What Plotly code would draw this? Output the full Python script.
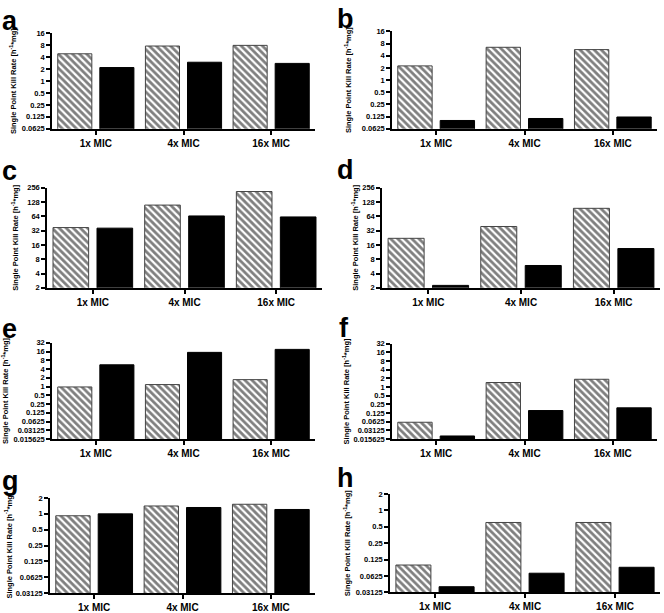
import plotly.graph_objects as go
import math

W, H = 664, 613

categories = ["1x MIC", "4x MIC", "16x MIC"]

a_hatched = [4.9, 7.7, 8.0]
a_black = [2.2, 3.0, 2.8]
b_hatched = [2.25, 6.5, 5.7]
b_black = [0.10, 0.112, 0.122]
c_hatched = [37, 110, 212]
c_black = [36, 65, 62]
d_hatched = [22, 39, 94]
d_black = [2.25, 5.9, 13.4]
e_hatched = [0.97, 1.17, 1.73]
e_black = [5.6, 15, 19]
f_hatched = [0.06, 1.44, 1.87]
f_black = [0.020, 0.153, 0.19]
g_hatched = [0.92, 1.41, 1.52]
g_black = [1.0, 1.32, 1.21]
h_hatched = [0.099, 0.6, 0.6]
h_black = [0.0395, 0.07, 0.09]

ticks_ab = [0.0625, 0.125, 0.25, 0.5, 1, 2, 4, 8, 16]
labels_ab = ["0.0625", "0.125", "0.25", "0.5", "1", "2", "4", "8", "16"]
ticks_cd = [2, 4, 8, 16, 32, 64, 128, 256]
labels_cd = ["2", "4", "8", "16", "32", "64", "128", "256"]
ticks_ef = [0.015625, 0.03125, 0.0625, 0.125, 0.25, 0.5, 1, 2, 4, 8, 16, 32]
labels_ef = ["0.015625", "0.03125", "0.0625", "0.125", "0.25", "0.5", "1", "2", "4", "8", "16", "32"]
ticks_gh = [0.03125, 0.0625, 0.125, 0.25, 0.5, 1, 2]
labels_gh = ["0.03125", "0.0625", "0.125", "0.25", "0.5", "1", "2"]

# panel: letter, hatched, black, ticks, labels, plot box px (x0,x1,y0,y1), letter pos, title x
panels = [
    ("a", a_hatched, a_black, ticks_ab, labels_ab, (52, 315, 30, 127), (0, 0), 13),
    ("b", b_hatched, b_black, ticks_ab, labels_ab, (392, 657, 28, 127), (335, -2), 348),
    ("c", c_hatched, c_black, ticks_cd, labels_cd, (47, 322, 187, 289), (0, 153), 15),
    ("d", d_hatched, d_black, ticks_cd, labels_cd, (382, 660, 187, 289), (335, 152), 355),
    ("e", e_hatched, e_black, ticks_ef, labels_ef, (52, 315, 345, 443), (0, 314), 5),
    ("f", f_hatched, f_black, ticks_ef, labels_ef, (392, 657, 346, 443), (337, 313), 346),
    ("g", g_hatched, g_black, ticks_gh, labels_gh, (50, 315, 503, 600), (0, 468), 8),
    ("h", h_hatched, h_black, ticks_gh, labels_gh, (390, 660, 499, 599), (335, 465), 347),
]

fig = go.Figure()
annotations = []
FONT = "Liberation Sans, Arial, sans-serif"

for i, (letter, hat, blk, tv, tt, box, lpos, tx) in enumerate(panels):
    n = "" if i == 0 else str(i + 1)
    xa = "x" + n
    ya = "y" + n
    x0, x1, y0, y1 = box
    fig.add_trace(go.Bar(
        x=categories, y=hat, xaxis=xa, yaxis=ya, showlegend=False,
        marker=dict(color="white",
                    pattern=dict(shape="\\", fgcolor="black", bgcolor="white", size=5, solidity=0.55),
                    line=dict(color="#444", width=1)),
    ))
    fig.add_trace(go.Bar(
        x=categories, y=blk, xaxis=xa, yaxis=ya, showlegend=False,
        marker=dict(color="black", line=dict(color="black", width=1)),
    ))
    fig.layout["xaxis" + n] = dict(
        domain=[x0 / W, x1 / W], anchor=ya, type="category", range=[-0.5, 2.5],
        showline=True, linecolor="black", linewidth=2, ticks="outside", ticklen=4,
        tickwidth=1.5, tickcolor="black", showgrid=False,
        tickfont=dict(family=FONT, size=10, color="black", weight="bold"),
        zeroline=False, fixedrange=True,
    )
    fig.layout["yaxis" + n] = dict(
        domain=[1 - y1 / H, 1 - y0 / H], anchor=xa, type="log",
        range=[math.log10(tv[0]), math.log10(tv[-1])],
        tickvals=tv, ticktext=tt, showline=True, linecolor="black", linewidth=1.5,
        ticks="outside", ticklen=4, tickwidth=1.5, tickcolor="black", showgrid=False,
        tickfont=dict(family=FONT, size=7.5, color="black", weight="bold"),
        zeroline=False, fixedrange=True,
    )
    annotations.append(dict(
        text=letter, x=lpos[0] / W, y=1 - lpos[1] / H, xref="paper", yref="paper",
        xanchor="left", yanchor="top", showarrow=False,
        font=dict(family=FONT, size=27, color="black", weight="bold"),
    ))
    annotations.append(dict(
        text="Single Point Kill Rate [h<sup>-1</sup>*mg]", x=tx / W, y=1 - (y0 + y1) / 2 / H,
        xref="paper", yref="paper", xanchor="center", yanchor="middle", textangle=-90,
        showarrow=False, font=dict(family=FONT, size=7.5, color="black", weight="bold"),
    ))

fig.update_layout(
    width=W, height=H, margin=dict(l=0, r=0, t=0, b=0),
    paper_bgcolor="white", plot_bgcolor="white",
    barmode="group", bargap=0.04, bargroupgap=0.19,
    annotations=annotations,
)

fig.write_html("out.html", config={"displayModeBar": False},
               post_script="document.body.style.margin='0px';")
